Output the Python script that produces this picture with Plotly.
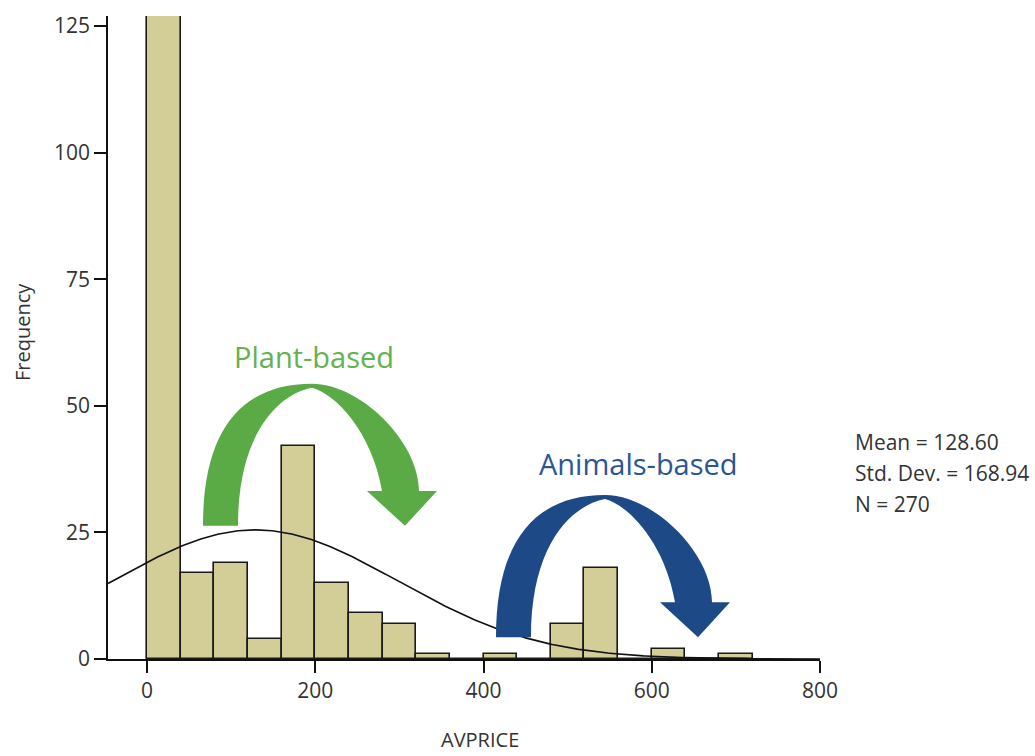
import numpy as np
import plotly.graph_objects as go

# ---- data ----
bin_starts = [0, 40, 80, 120, 160, 200, 240, 280, 320, 360, 400, 440, 480, 520, 560, 600, 640, 680]
frequencies = [127, 17, 19, 4, 42, 15, 9, 7, 1, 0, 1, 0, 7, 18, 0, 2, 0, 1]
bin_width = 40
mean_val = 128.60
std_val = 168.94
n_val = 270
x_ticks = [0, 200, 400, 600, 800]
y_ticks = [0, 25, 50, 75, 100, 125]

# ---- layout geometry ----
W, H = 1035, 756
ML, MR, MT, MB = 108, 215, 12, 97
PW, PH = W - ML - MR, H - MT - MB
XR = [-46.4, 800]
YR = [0, 127]

def px2x(px):
    return XR[0] + (px - ML) / PW * (XR[1] - XR[0])

def py2y(py):
    return YR[0] + (H - MB - py) / PH * (YR[1] - YR[0])

def px2paper(px):
    return (px - ML) / PW

def py2paper(py):
    return (H - MB - py) / PH

fig = go.Figure()

centers = [s + bin_width / 2 for s in bin_starts]
fig.add_trace(go.Bar(
    x=centers, y=frequencies, width=bin_width,
    marker=dict(color="#d3cd98", line=dict(color="#1a1a1a", width=1.6)),
    showlegend=False, hoverinfo="x+y",
))

# normal curve from displayed statistics
xc = np.linspace(XR[0], XR[1], 400)
yc = n_val * bin_width / (std_val * np.sqrt(2 * np.pi)) * np.exp(-0.5 * ((xc - mean_val) / std_val) ** 2)
fig.add_trace(go.Scatter(x=xc, y=yc, mode="lines", line=dict(color="#111111", width=1.6),
                         showlegend=False, hoverinfo="skip", cliponaxis=False))

# curved arrows (pixel template, converted to data coords)
arrow_tpl = [
    ("M", [(203, 525)]),
    ("C", [(203, 428), (242, 382), (312, 382)]),
    ("C", [(360, 382), (419, 440), (419, 490)]),
    ("L", [(437, 490)]),
    ("L", [(405, 525)]),
    ("L", [(367, 490)]),
    ("L", [(382, 490)]),
    ("C", [(372, 430), (335, 392), (312, 386)]),
    ("C", [(280, 392), (238, 430), (238, 525)]),
]

def arrow_path(dx, dy):
    parts = []
    for cmd, pts in arrow_tpl:
        coords = " ".join(f"{px2x(px + dx):.3f},{py2y(py + dy):.3f}" for px, py in pts)
        parts.append(f"{cmd} {coords}")
    return " ".join(parts) + " Z"

green = "#5aab46"
blue = "#1d4a87"
fig.add_shape(type="path", path=arrow_path(0, 0), xref="x", yref="y",
              fillcolor=green, line=dict(width=0), layer="above")
fig.add_shape(type="path", path=arrow_path(293, 112), xref="x", yref="y",
              fillcolor=blue, line=dict(width=0), layer="above")

font_main = "Open Sans, Noto Sans, sans-serif"
annos = [
    dict(text="Plant-based", px=314, py=355, size=29, color="#62b24f", angle=0),
    dict(text="Animals-based", px=638, py=462, size=29, color="#2a5694", angle=0),
    dict(text="AVPRICE", px=480, py=740, size=20, color="#333333", angle=0),
    dict(text="Frequency", px=22, py=330, size=20, color="#333333", angle=-90),
]
for a in annos:
    fig.add_annotation(text=a["text"], xref="paper", yref="paper",
                       x=px2paper(a["px"]), y=py2paper(a["py"]),
                       xanchor="center", yanchor="middle", showarrow=False,
                       textangle=a["angle"], font=dict(size=a["size"], color=a["color"]))

stats = [f"Mean = {mean_val:.2f}", f"Std. Dev. = {std_val:.2f}", f"N = {n_val}"]
for i, s in enumerate(stats):
    fig.add_annotation(text=s, xref="paper", yref="paper",
                       x=px2paper(853), y=py2paper(441 + i * 31),
                       xanchor="left", yanchor="middle", showarrow=False,
                       font=dict(size=21, color="#333333"))

fig.update_layout(
    width=W, height=H,
    margin=dict(l=ML, r=MR, t=MT, b=MB, pad=0),
    paper_bgcolor="white", plot_bgcolor="white",
    font=dict(family=font_main, size=20, color="#333333"),
    bargap=0,
    xaxis=dict(range=XR, tickvals=x_ticks, showgrid=False, zeroline=False,
               showline=True, linecolor="#111111", linewidth=1.6,
               ticks="outside", ticklen=12, tickwidth=1.6, tickcolor="#111111",
               tickfont=dict(size=21, color="#333333")),
    yaxis=dict(range=YR, tickvals=y_ticks, showgrid=False, zeroline=False,
               showline=True, linecolor="#111111", linewidth=1.6,
               ticks="outside", ticklen=12, tickwidth=1.6, tickcolor="#111111",
               tickfont=dict(size=21, color="#333333")),
)

fig.write_html("out.html", config={"displayModeBar": False},
               post_script="document.body.style.margin='0px';")
